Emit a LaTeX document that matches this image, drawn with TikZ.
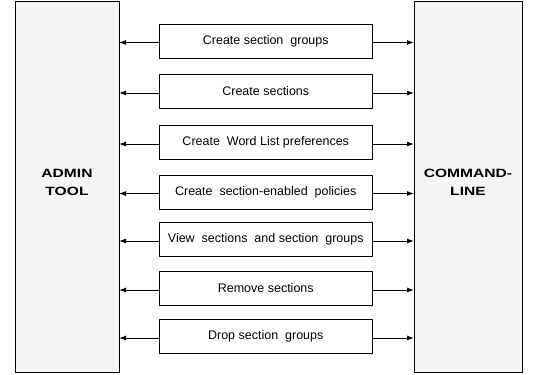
\documentclass[tikz,border=0pt]{standalone}
\usepackage{fontspec}
\usepackage{graphicx}
\setmainfont{Liberation Sans}
\usetikzlibrary{arrows.meta}
\definecolor{panel}{HTML}{F5F5F5}
\tikzset{
  side/.style={draw=black, line width=1pt, fill=panel},
  taskbox/.style={draw=black, line width=1pt, fill=white, minimum width=213.5pt, minimum height=34pt, inner sep=0pt, font=\fontsize{12.5}{14}\selectfont},
  sidelabel/.style={align=center, font=\bfseries\fontsize{12}{18}\selectfont},
  arr/.style={line width=1pt, -{Latex[length=7pt,width=5pt]}}
}
\newcommand{\wide}[1]{\scalebox{1.3}[1]{#1}}
\begin{document}
\begin{tikzpicture}[x=1pt,y=-1pt]
\useasboundingbox (0,0) rectangle (536,375);
\draw[side] (15,1.5) rectangle (119,372.5);
\draw[side] (414,1.5) rectangle (522,372.5);
\coordinate (L) at (119,186);
\coordinate (R) at (414,186);
\node[sidelabel] (adm) at (67,182.5) {\wide{ADMIN}\\\wide{TOOL}};
\node[sidelabel] (cmd) at (468,182.5) {\wide{COMMAND-}\\\wide{LINE}};
\node[taskbox] (m1) at (265.75,41) {Create section\ \ groups};
\node[taskbox] (m2) at (265.75,91.5) {Create sections};
\node[taskbox] (m3) at (265.75,142.5) {Create\ \ Word List preferences};
\node[taskbox] (m4) at (265.75,192) {Create\ \ section-enabled\ \ policies};
\node[taskbox] (m5) at (265.75,239.5) {View\ \ sections\ \ and section\ \ groups};
\node[taskbox] (m6) at (265.75,288.5) {Remove sections};
\node[taskbox] (m7) at (265.75,336.5) {Drop section\ \ groups};
\foreach \m in {m1,m2,m3,m4,m5,m6,m7}{
  \draw[arr] ([yshift=-1.5pt]\m.west) -- ([yshift=-1.5pt]L |- \m.west);
  \draw[arr] ([yshift=-1.5pt]\m.east) -- ([yshift=-1.5pt]R |- \m.east);
}
\end{tikzpicture}
\end{document}
